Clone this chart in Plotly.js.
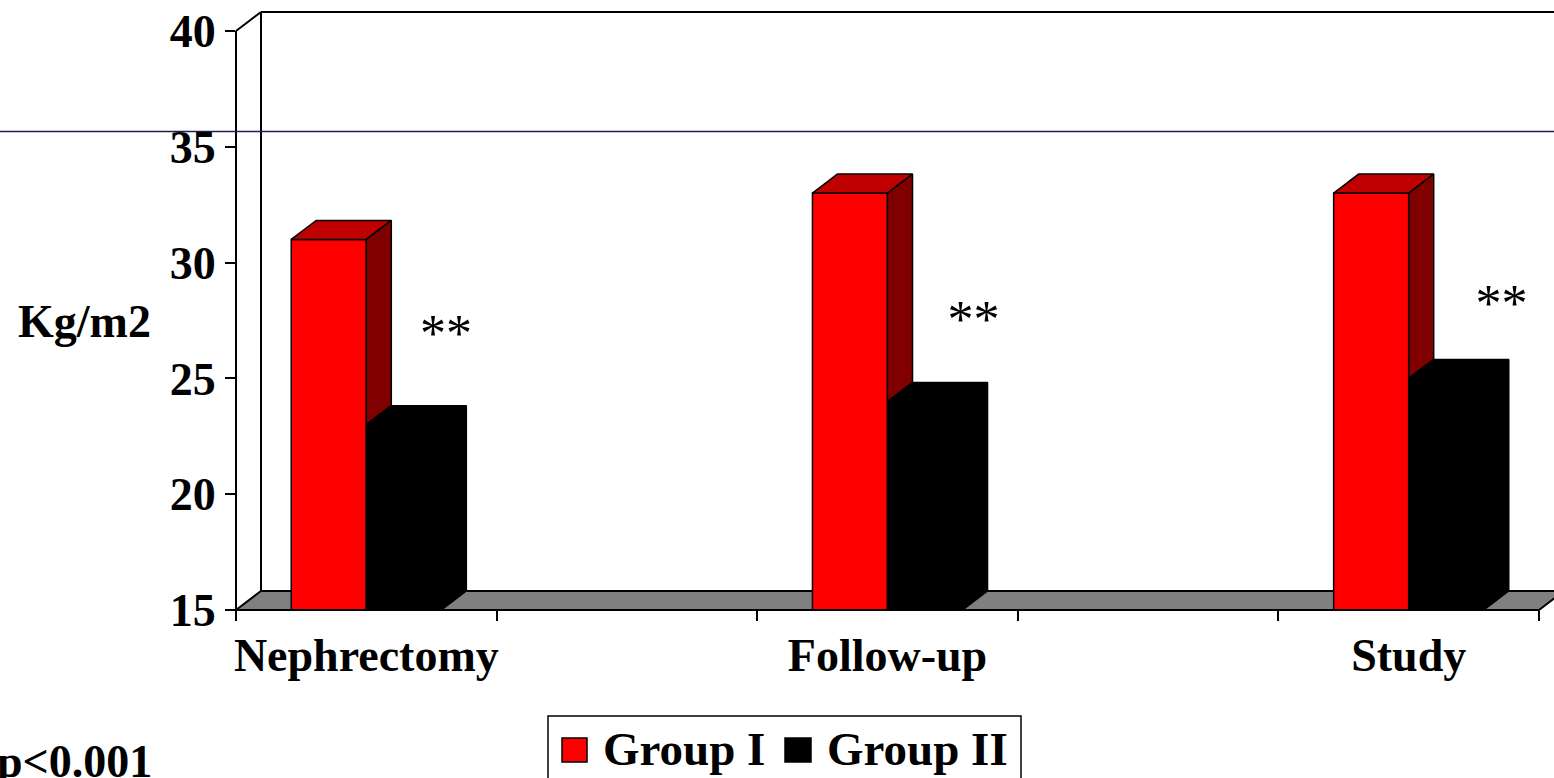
<!DOCTYPE html>
<html>
<head>
<meta charset="utf-8">
<script src="https://cdn.plot.ly/plotly-3.0.1.min.js"></script>
<style>
  html, body { margin: 0; padding: 0; background: #fff; }
  #chart { width: 1554px; height: 778px; }
</style>
</head>
<body>
<div id="chart"></div>
<script>
// Body mass index by time point, two groups
const categories = ['Nephrectomy', 'Follow-up', 'Study'];
const groupI = [31, 33, 33];
const groupII = [23, 24, 25];
const seriesNames = ['Group I', 'Group II'];
const yTickValues = [15, 20, 25, 30, 35, 40];
const significance = ['**', '**', '**'];
const pValueNote = 'p<0.001';
const yTitle = 'Kg/m2';

// ---- geometry / style ----
const W = 1554, H = 778;
const M = { l: 236, r: 0, t: 8, b: 168 };
const plotW = W - M.l - M.r, plotH = H - M.t - M.b;
const pxPerCat = 521.2, pxPerUnit = 23.16;
const yBase = yTickValues[0], yTop = yTickValues[yTickValues.length - 1];
const xStart = -0.25;
const xEnd = categories.length - 0.75;
const xRange = [xStart, xStart + plotW / pxPerCat];
const yRange = [yBase, yBase + plotH / pxPerUnit];
const depthX = 25 / pxPerCat;      // receding depth of the 3-D box, x units
const depthY = 19 / pxPerUnit;     // receding depth of the 3-D box, y units
const barW = 0.144;
const serif = 'Liberation Serif, Times New Roman, serif';
const colors = {
  front: ['#ff0000', '#000000'],
  top: ['#c00000', '#000000'],
  side: ['#800000', '#000000']
};

const xp = x => (x - xRange[0]) / (xRange[1] - xRange[0]);
const yp = y => (y - yRange[0]) / (yRange[1] - yRange[0]);
const pxX = px => (px - M.l) / plotW;
const pxY = py => (M.t + plotH - py) / plotH;

const series = [groupI, groupII];
const idx = categories.map((_, i) => i);

// front faces as real bars
const traces = series.map((vals, k) => ({
  type: 'bar',
  name: seriesNames[k],
  x: idx,
  y: vals,
  marker: { color: colors.front[k], line: { color: '#000', width: 1.5 } },
  showlegend: false,
  hovertemplate: '%{y}<extra>' + seriesNames[k] + '</extra>'
}));

// top and side faces of each column, built from the same values
idx.forEach(i => {
  series.forEach((vals, k) => {
    const v = vals[i];
    const L = i - barW + k * barW;
    const R = L + barW;
    const next = series[k + 1] ? series[k + 1][i] : yBase;
    const b = Math.min(v, next);
    traces.push({
      type: 'scatter', mode: 'lines', fill: 'toself',
      x: [L, R, R + depthX, L + depthX, L],
      y: [v, v, v + depthY, v + depthY, v],
      fillcolor: colors.top[k],
      line: { color: '#000', width: 1.5 },
      hoverinfo: 'skip', showlegend: false
    });
    traces.push({
      type: 'scatter', mode: 'lines', fill: 'toself',
      x: [R, R + depthX, R + depthX, R, R],
      y: [v, v + depthY, b + depthY, b, v],
      fillcolor: colors.side[k],
      line: { color: '#000', width: 1.5 },
      hoverinfo: 'skip', showlegend: false
    });
  });
});

// significance markers beside each pair
const starDx = [0.153, 0.165, 0.178];
const starY = [26.75, 27.35, 28.05];
traces.push({
  type: 'scatter', mode: 'text',
  x: idx.map(i => i + starDx[i]),
  y: starY,
  text: significance,
  textposition: 'middle center',
  textfont: { family: serif, size: 52, color: '#000' },
  xaxis: 'x2', yaxis: 'y',
  cliponaxis: false, hoverinfo: 'skip', showlegend: false
});

// x tick marks sit half-way between categories
const xTickMarks = [];
idx.forEach(i => { xTickMarks.push(i - 0.25, i + 0.25); });
xTickMarks.push(xEnd);

const line = (x0, y0, x1, y1, layer, color, width) => ({
  type: 'line', xref: 'paper', yref: 'paper',
  x0: x0, y0: y0, x1: x1, y1: y1, layer: layer || 'below',
  line: { color: color || '#000', width: width || 2 }
});

const shapes = [
  // floor
  {
    type: 'path', xref: 'paper', yref: 'paper', layer: 'below',
    path: 'M' + xp(xStart) + ',' + yp(yBase) +
          'L' + xp(xEnd) + ',' + yp(yBase) +
          'L' + xp(xEnd + depthX) + ',' + yp(yBase + depthY) +
          'L' + xp(xStart + depthX) + ',' + yp(yBase + depthY) + 'Z',
    fillcolor: '#808080', line: { color: '#000', width: 2 }
  },
  // back wall
  line(xp(xStart + depthX), yp(yBase + depthY), xp(xStart + depthX), yp(yTop + depthY)),
  line(xp(xStart + depthX), yp(yTop + depthY), xp(xEnd + depthX), yp(yTop + depthY)),
  // front value axis and its corner
  line(xp(xStart), yp(yBase), xp(xStart), yp(yTop)),
  line(xp(xStart), yp(yTop), xp(xStart + depthX), yp(yTop + depthY)),
  // front edge of the floor
  line(xp(xStart), yp(yBase), xp(xEnd), yp(yBase), 'above'),
  // thin rule across the slide
  line(pxX(-20), pxY(131.5), pxX(1580), pxY(131.5), 'below', '#1c1c58', 1.3),
  // legend frame and swatches
  { type: 'rect', xref: 'paper', yref: 'paper', layer: 'above',
    x0: pxX(548), x1: pxX(1021), y0: pxY(716), y1: pxY(800),
    fillcolor: 'rgba(0,0,0,0)', line: { color: '#000', width: 1.5 } },
  { type: 'rect', xref: 'paper', yref: 'paper', layer: 'above',
    x0: pxX(562), x1: pxX(587), y0: pxY(738), y1: pxY(762),
    fillcolor: colors.front[0], line: { color: '#000', width: 1.5 } },
  { type: 'rect', xref: 'paper', yref: 'paper', layer: 'above',
    x0: pxX(785), x1: pxX(811), y0: pxY(738), y1: pxY(762),
    fillcolor: colors.front[1], line: { color: '#000', width: 1.5 } }
];

const boldFont = size => ({ family: serif, size: size, color: '#000', weight: 'bold' });

const annotations = [
  { xref: 'paper', yref: 'paper', x: pxX(16), y: pxY(321), xanchor: 'left', yanchor: 'middle',
    text: yTitle, showarrow: false, font: boldFont(46) },
  { xref: 'paper', yref: 'paper', x: pxX(154), y: pxY(761), xanchor: 'right', yanchor: 'middle',
    text: pValueNote, showarrow: false, font: boldFont(46) },
  { xref: 'paper', yref: 'paper', x: pxX(601), y: pxY(749), xanchor: 'left', yanchor: 'middle',
    text: seriesNames[0], showarrow: false, font: boldFont(47) },
  { xref: 'paper', yref: 'paper', x: pxX(825), y: pxY(749), xanchor: 'left', yanchor: 'middle',
    text: seriesNames[1], showarrow: false, font: boldFont(47) }
];

const layout = {
  width: W, height: H,
  margin: M,
  paper_bgcolor: '#fff', plot_bgcolor: '#fff',
  barmode: 'group', bargap: 1 - 2 * barW, bargroupgap: 0,
  showlegend: false,
  xaxis: {
    range: xRange, tickvals: xTickMarks, showticklabels: false,
    ticks: 'outside', ticklen: 10, tickwidth: 2, tickcolor: '#000',
    showline: false, showgrid: false, zeroline: false, fixedrange: true
  },
  xaxis2: {
    overlaying: 'x', side: 'bottom', anchor: 'y', range: xRange,
    tickvals: idx, ticktext: categories, ticks: '',
    tickfont: boldFont(46), ticklabelstandoff: 14,
    showline: false, showgrid: false, zeroline: false, fixedrange: true
  },
  yaxis: {
    range: yRange, tickvals: yTickValues, ticktext: yTickValues.map(String),
    ticks: 'outside', ticklen: 10, tickwidth: 2, tickcolor: '#000',
    tickfont: boldFont(46), ticklabelstandoff: 0,
    showline: false, showgrid: false, zeroline: false, fixedrange: true
  },
  shapes: shapes,
  annotations: annotations
};

Plotly.newPlot('chart', traces, layout, { displayModeBar: false, staticPlot: false });
</script>
</body>
</html>
